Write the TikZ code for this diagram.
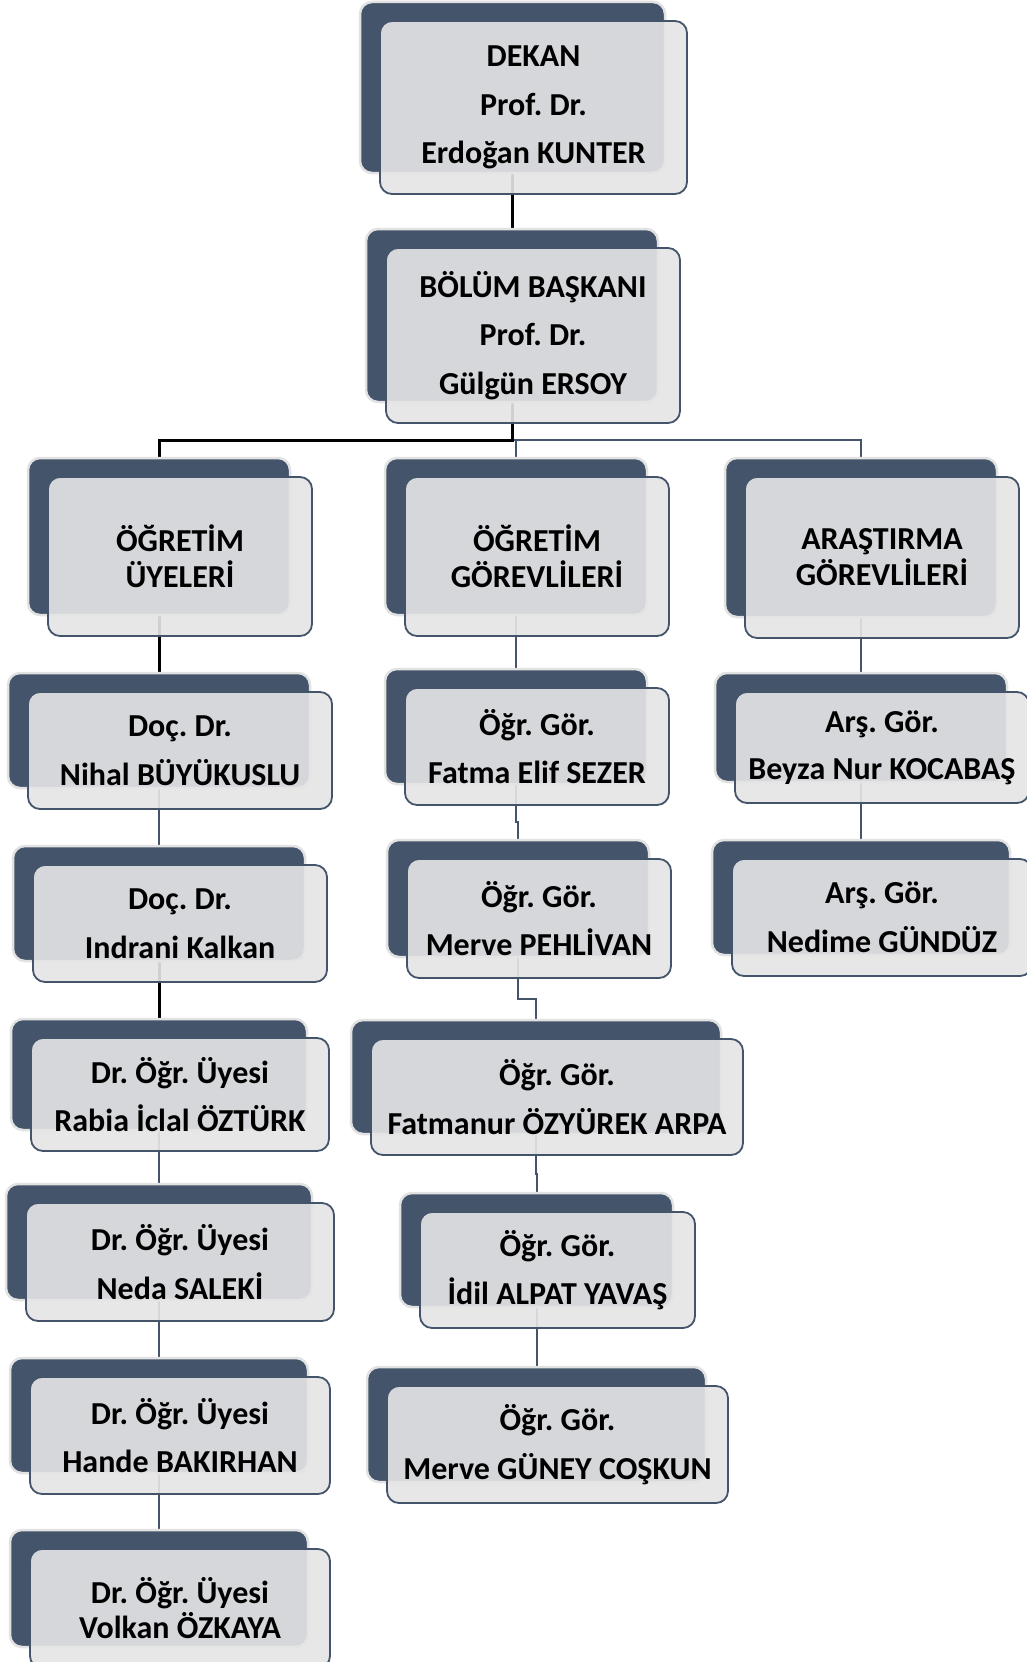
\documentclass[tikz,border=0pt]{standalone}
\usepackage{fontspec}
\setmainfont{Carlito}
\usetikzlibrary{calc}
\definecolor{navy}{RGB}{68,84,106}
\definecolor{frontgray}{RGB}{229,229,230}
\definecolor{glow}{RGB}{226,226,226}
\pgfdeclarelayer{lines}
\pgfdeclarelayer{back}
\pgfsetlayers{lines,back,main}
\frenchspacing
\tikzset{
  backbox/.style={fill=navy, draw=glow, line width=2.5pt, rounded corners=12pt, inner sep=0pt},
  frontbox/.style={fill=frontgray, fill opacity=0.91, text opacity=1, draw=navy, draw opacity=1,
    line width=1.8pt, rounded corners=12pt, inner sep=0pt, align=center, text=black},
  thickline/.style={line width=3pt, draw=black},
  thinline/.style={line width=2pt, draw=navy},
}
\newcommand\orgbox[7]{%
  \pgfmathsetmacro\obw{#4-#2}\pgfmathsetmacro\obh{#5-#3}%
  \pgfmathsetmacro\obx{(#2+#4)/2}\pgfmathsetmacro\oby{(#3+#5)/2}%
  \begin{pgfonlayer}{back}
    \node[backbox, minimum width=\obw pt, minimum height=\obh pt] (#1-b) at (\obx,\oby) {};
  \end{pgfonlayer}
  \node[frontbox, minimum width=\obw pt+2pt, minimum height=\obh pt+2pt,
        font=\fontsize{32}{#6}\selectfont\bfseries\frenchspacing] (#1) at (\obx+21,\oby+20) {#7};
}
\newcommand\orglink[3]{%
  \coordinate (#2-#3-m) at ($(#2.south)!0.5!(#3-b.north)$);
  \draw[#1] (#2-b.center) -- (#2-b.center |- #2-#3-m) -| (#3-b.center);
}
\begin{document}
\begin{tikzpicture}[x=1pt,y=-1pt]
\useasboundingbox (0,0) rectangle (1027,1662);
% top
\orgbox{dekan}{360}{2}{665}{173}{48.5}{DEKAN\\Prof. Dr.\\Erdoğan KUNTER}
\orgbox{bolum}{366}{229}{658}{402}{48.5}{BÖLÜM BAŞKANI\\Prof. Dr.\\Gülgün ERSOY}
% level 2
\orgbox{uyeleri}{28}{458}{290}{615}{36}{ÖĞRETİM\\ÜYELERİ}
\orgbox{gorevli}{385}{458}{647}{615}{36}{ÖĞRETİM\\GÖREVLİLERİ}
\orgbox{aras}{725}{458}{997}{617}{36}{ARAŞTIRMA\\GÖREVLİLERİ}
% left column
\orgbox{nihal}{8}{673}{310}{788}{48.5}{Doç. Dr.\\Nihal BÜYÜKUSLU}
\orgbox{indrani}{13}{846}{305}{961}{48.5}{Doç. Dr.\\Indrani Kalkan}
\orgbox{rabia}{11}{1019}{307}{1130}{48.5}{Dr. Öğr. Üyesi\\Rabia İclal ÖZTÜRK}
\orgbox{neda}{6}{1184}{312}{1300}{48.5}{Dr. Öğr. Üyesi\\Neda SALEKİ}
\orgbox{hande}{10}{1358}{308}{1473}{48.5}{Dr. Öğr. Üyesi\\Hande BAKIRHAN}
\orgbox{volkan}{10}{1530}{308}{1647}{35}{Dr. Öğr. Üyesi\\Volkan ÖZKAYA}
% middle column
\orgbox{fatma}{385}{669}{647}{784}{48.5}{Öğr. Gör.\\Fatma Elif SEZER}
\orgbox{merve}{387}{840}{649}{957}{48.5}{Öğr. Gör.\\Merve PEHLİVAN}
\orgbox{fatmanur}{351}{1020}{721}{1134}{48.5}{Öğr. Gör.\\Fatmanur ÖZYÜREK ARPA}
\orgbox{idil}{400}{1193}{673}{1307}{48.5}{Öğr. Gör.\\İdil ALPAT YAVAŞ}
\orgbox{guney}{367}{1367}{706}{1482}{48.5}{Öğr. Gör.\\Merve GÜNEY COŞKUN}
% right column
\orgbox{beyza}{715}{673}{1007}{782}{47}{Arş. Gör.\\Beyza Nur KOCABAŞ}
\orgbox{nedime}{712}{840}{1010}{955}{48.5}{Arş. Gör.\\Nedime GÜNDÜZ}
% connectors
\begin{pgfonlayer}{lines}
  \fill[white] (0,0) rectangle (1027,1662);
  \orglink{thinline}{bolum}{gorevli}
  \orglink{thinline}{bolum}{aras}
  \orglink{thickline}{bolum}{uyeleri}
  \orglink{thickline}{dekan}{bolum}
  \orglink{thickline}{uyeleri}{nihal}
  \orglink{thinline}{nihal}{indrani}
  \orglink{thickline}{indrani}{rabia}
  \orglink{thinline}{rabia}{neda}
  \orglink{thinline}{neda}{hande}
  \orglink{thinline}{hande}{volkan}
  \orglink{thinline}{gorevli}{fatma}
  \orglink{thinline}{fatma}{merve}
  \orglink{thinline}{merve}{fatmanur}
  \orglink{thinline}{fatmanur}{idil}
  \orglink{thinline}{idil}{guney}
  \orglink{thinline}{aras}{beyza}
  \orglink{thinline}{beyza}{nedime}
\end{pgfonlayer}
\end{tikzpicture}
\end{document}
